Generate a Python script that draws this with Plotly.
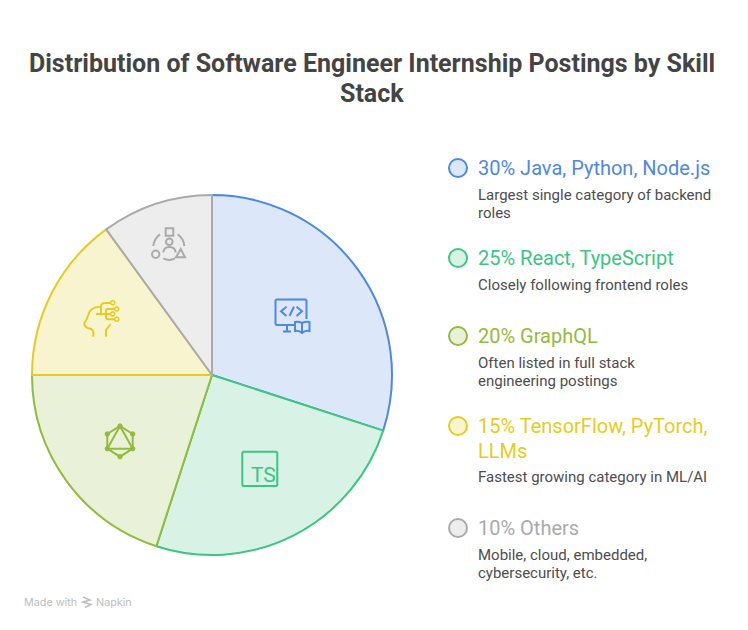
import plotly.graph_objects as go

# ---- data ----
categories = ["Java, Python, Node.js", "React, TypeScript", "GraphQL", "TensorFlow, PyTorch, LLMs", "Others"]
values = [30, 25, 20, 15, 10]
title_lines = ["Distribution of Software Engineer Internship Postings by Skill", "Stack"]
heading_lines = [["30% Java, Python, Node.js"], ["25% React, TypeScript"], ["20% GraphQL"],
                 ["15% TensorFlow, PyTorch,", "LLMs"], ["10% Others"]]
desc_lines = [["Largest single category of backend", "roles"], ["Closely following frontend roles"],
              ["Often listed in full stack", "engineering postings"], ["Fastest growing category in ML/AI"],
              ["Mobile, cloud, embedded,", "cybersecurity, etc."]]

# ---- styles ----
W, H = 748, 630
strokes = ["#4e88e7", "#3cc583", "#93bb3d", "#e6cc21", "#aaaaaa"]
fills = ["#dce7f9", "#d8f3e6", "#e9f1d8", "#f8f4d0", "#ededed"]
CX, CY, R = 212, 375, 180
heading_y = [[168], [258], [336], [426, 451], [528]]
desc_y = [[195, 213], [285], [363, 381], [477], [555, 573]]
DOT_X, TEXT_X = 458, 477

fig = go.Figure()
fig.add_trace(go.Scatter(x=[0, W], y=[0, H], mode="markers", marker=dict(opacity=0), hoverinfo="skip", showlegend=False))
fig.add_trace(go.Pie(
    labels=categories, values=values, sort=False, direction="clockwise", rotation=0,
    textinfo="none", hoverinfo="label+percent", showlegend=False,
    domain=dict(x=[(CX - R) / W, (CX + R) / W], y=[1 - (CY + R) / H, 1 - (CY - R) / H]),
    marker=dict(colors=fills, line=dict(color=strokes, width=2)),
))

annotations = []
def text(x, y, s, size, color, anchor="left", weight=None, family="Roboto"):
    annotations.append(dict(x=x, y=y, xref="x", yref="y", text=s, showarrow=False, xanchor=anchor, yanchor="middle",
                            align=anchor, xshift=0, borderpad=0,
                            font=dict(family=family, size=size, color=color, weight=weight)))

shapes = []
def path(d, color, width=2, fill="rgba(0,0,0,0)"):
    shapes.append(dict(type="path", xref="x", yref="y", path=d, layer="above",
                       line=dict(color=color, width=width), fillcolor=fill))
def circle(x, y, r, color, width=2, fill="rgba(0,0,0,0)"):
    shapes.append(dict(type="circle", xref="x", yref="y", x0=x - r, x1=x + r, y0=y - r, y1=y + r, layer="above",
                       line=dict(color=color, width=width), fillcolor=fill))

# title
for line, y in zip(title_lines, [63, 93]):
    text(372, y, line, 25, "#444444", anchor="center", weight=700)

# legend
for i in range(len(values)):
    circle(DOT_X, heading_y[i][0], 9, strokes[i], 2, fills[i])
    for line, y in zip(heading_lines[i], heading_y[i]):
        text(TEXT_X, y, line, 20, strokes[i])
    for line, y in zip(desc_lines[i], desc_y[i]):
        text(TEXT_X, y, line, 15, "#4d4d4d")

# icon: monitor + book
c = strokes[0]
path("M294,325 H277 Q275.5,325 275.5,323 V301 Q275.5,299.5 277,299.5 H305 Q306.5,299.5 306.5,301 V319", c)
path("M287,325 V331 M283,331.5 H291", c)
path("M286.5,306.7 L281,311.3 L286.5,316 M289.5,316 L294,306.7 M296.5,306.7 L302,311.3 L296.5,316", c)
path("M302,323 Q298,321 295,322 V331 Q299,330 302,333 Q305,330 309.5,331 V322 Q306,321 302,323 V333", c)

# icon: TS
c = strokes[1]
path("M243.8,451.7 H275.8 Q277.3,451.7 277.3,453.2 V484.5 Q277.3,486 275.8,486 H243.8 Q242.3,486 242.3,484.5 V453.2 Q242.3,451.7 243.8,451.7 Z", c)
text(263, 474.5, "TS", 21, c, anchor="center")

# icon: hexagon with triangle
c = strokes[2]
path("M120,426 L132.7,434 V448.7 L120,456.7 L107.3,448.7 V434 Z", c)
path("M120,426 L132.7,448.7 H107.3 Z", c)
for x, y in [(120, 426), (132.7, 434), (132.7, 448.7), (120, 456.7), (107.3, 448.7), (107.3, 434)]:
    circle(x, y, 2.2, c, 1, c)

# icon: head with circuit
c = strokes[3]
path("M100,306.7 Q90,307 88.3,315 Q87,319 84.3,323.3 Q84,326 88.3,328.3 Q93,329 93.3,332 V336.7", c)
path("M110.7,324 L106,330 V336.7", c)
path("M96,314 H110", c)
path("M101,314 V307 Q101,303 105,303 H110.7", c)
path("M106,314 V311 Q106,309 108,309 H114.7", c)
path("M106,314 V317 Q106,319.3 108,319.3 H114.7", c)
for x, y in [(112.7, 302.7), (116.7, 309), (112.7, 314), (116.7, 319.3)]:
    circle(x, y, 2, c, 1.5)

# icon: person with shapes
c = strokes[4]
path("M165.7,228.3 H173.3 V235.7 H165.7 Z", c)
circle(155.7, 254.3, 3.7, c)
path("M180.7,249 L176,257.3 H185 Z", c)
circle(169.3, 241.7, 3.3, c)
path("M163.3,252.3 Q164,247 169.3,247 Q175,247 175.7,252.3", c)
path("M160,234.3 Q154,239 153.3,246", c)
path("M177.7,234.3 Q184,239 184.3,246", c)
path("M163.3,258.3 Q169.3,261.5 175,258.3", c)

# watermark
wm = "#bdbdbd"
text(23, 602.5, "Made with", 10.8, wm, family="Inter")
text(95, 602.5, "Napkin", 10.8, wm, family="Inter")
path("M83,597 L90,600 L83,602 L91,604.5 L85,607.5", wm, 1.5)

fig.update_layout(
    width=W, height=H, margin=dict(l=0, r=0, t=0, b=0), paper_bgcolor="white", plot_bgcolor="white",
    xaxis=dict(range=[0, W], visible=False, domain=[0, 1], fixedrange=True),
    yaxis=dict(range=[H, 0], visible=False, domain=[0, 1], fixedrange=True),
    annotations=annotations, shapes=shapes,
)
fig.write_html("out.html", config={"displayModeBar": False},
               post_script="document.body.style.margin='0';document.documentElement.style.overflow='hidden';")
